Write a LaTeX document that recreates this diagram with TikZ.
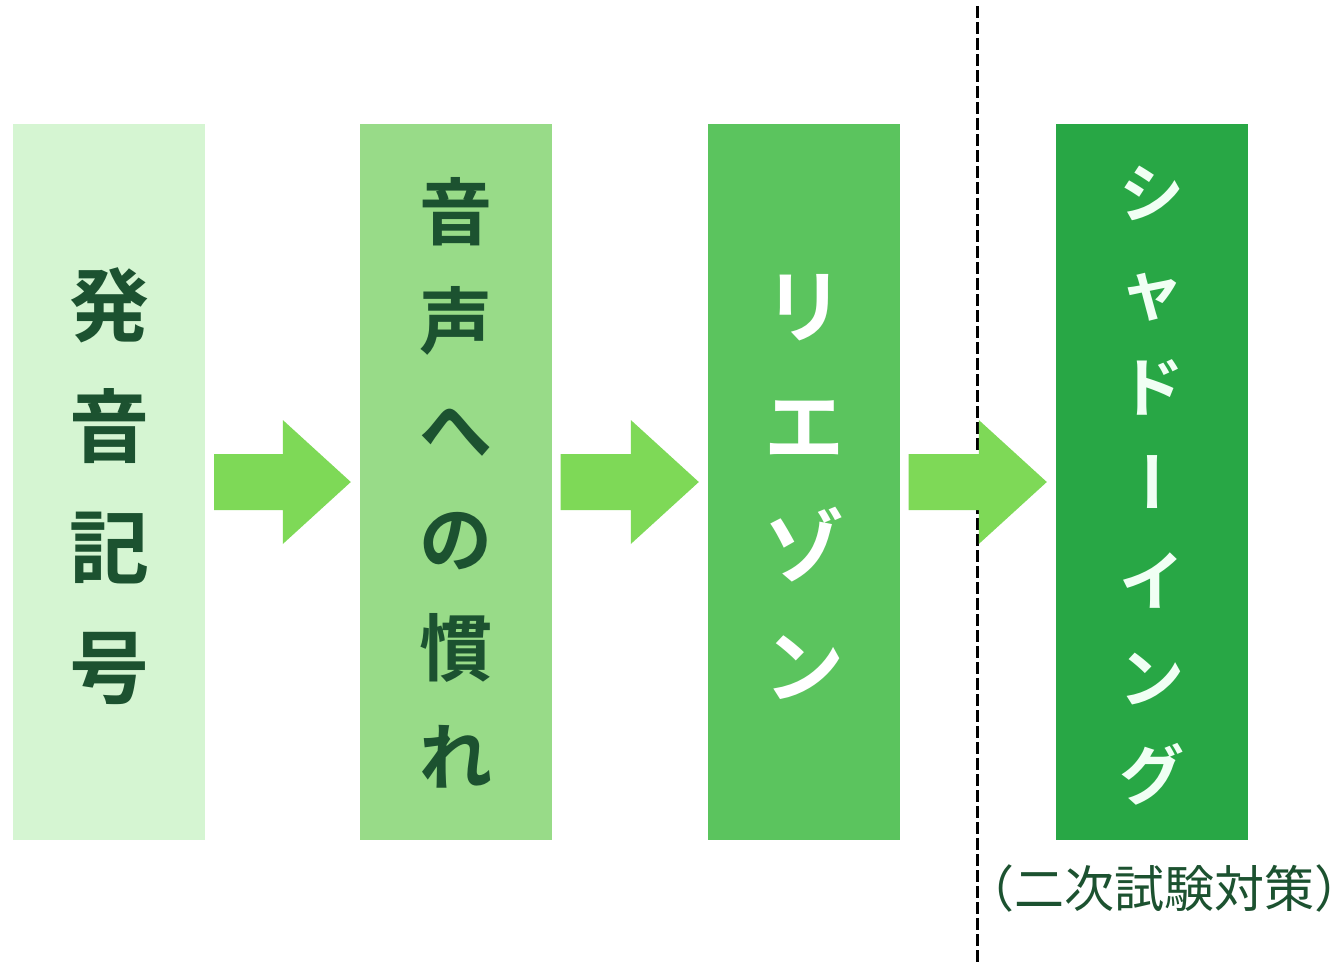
\documentclass[tikz,border=0pt]{standalone}
\usepackage{fontspec}
\usetikzlibrary{calc}
\newfontfamily\jpb{Noto Sans CJK JP Bold}
\newfontfamily\jpr[RawFeature=+halt]{Noto Sans CJK JP}
\definecolor{cA}{HTML}{D5F5D2}
\definecolor{cB}{HTML}{98DB88}
\definecolor{cC}{HTML}{5BC45E}
\definecolor{cD}{HTML}{28A745}
\definecolor{arrowc}{HTML}{7ED957}
\definecolor{darktxt}{HTML}{1C5230}
\definecolor{paletxt}{HTML}{F0FFF4}
\tikzset{
  box/.style={draw=none, minimum width=192pt, minimum height=716pt, inner sep=0pt},
  ch/.style={inner sep=0pt, anchor=center},
  chA/.style={ch, text height=70.4pt, text depth=9.6pt, font=\jpb\fontsize{80}{80}\selectfont, text=darktxt},
  chB/.style={ch, text height=64.24pt, text depth=8.76pt, font=\jpb\fontsize{73}{73}\selectfont, text=darktxt},
  chC/.style={ch, text height=70.4pt, text depth=9.6pt, font=\jpb\fontsize{80}{80}\selectfont, text=white},
  chD/.style={ch, text height=57.2pt, text depth=7.8pt, font=\jpb\fontsize{65}{65}\selectfont, text=paletxt},
  sub/.style={inner sep=0pt, font=\jpr\fontsize{50}{50}\selectfont, text=darktxt},
  divider/.style={black, line width=3pt, dash pattern=on 12pt off 4pt},
}
\newcommand\flowarrow[2]{%
  \fill[arrowc] let \p1=(#1.east), \p2=(#2.west) in
    (\x1+8.5pt,\y1+28pt) -- (\x2-77pt,\y1+28pt) -- (\x2-77pt,\y1+62pt) --
    (\x2-9pt,\y1) -- (\x2-77pt,\y1-62pt) -- (\x2-77pt,\y1-28pt) --
    (\x1+8.5pt,\y1-28pt) -- cycle;}
\begin{document}
\begin{tikzpicture}[x=1pt,y=-1pt]
\useasboundingbox[fill=white] (0,0) rectangle (1342,964);
% boxes
\node[box, fill=cA] (b1) at (109.3,482) {};
\node[box, fill=cB] (b2) at (456,482) {};
\node[box, fill=cC] (b3) at (804,482) {};
\node[box, fill=cD] (b4) at (1152,482) {};
% dashed divider
\coordinate (dtop) at (977.5,6);
\coordinate (dbot) at (977.5,964);
\draw[divider] (dtop) -- (dbot);
% arrows
\flowarrow{b1}{b2}
\flowarrow{b2}{b3}
\flowarrow{b3}{b4}
% box 1 text
\node[chA] (a1) at (109.5,305) {発};
\node[chA] (a2) at (109.5,426) {音};
\node[chA] (a3) at (109.5,547) {記};
\node[chA] (a4) at (109.5,667) {号};
% box 2 text
\node[chB] (n1) at (456,212) {音};
\node[chB] (n2) at (456,321) {声};
\node[chB] (n3) at (456,430) {へ};
\node[chB] (n4) at (456,539) {の};
\node[chB] (n5) at (456,648) {慣};
\node[chB] (n6) at (456,757) {れ};
% box 3 text
\node[chC] (r1) at (804,306) {リ};
\node[chC] (r2) at (804,426) {エ};
\node[chC] (r3) at (804,546) {ゾ};
\node[chC] (r4) at (804,666) {ン};
% box 4 text
\node[chD] (s1) at (1152,193) {シ};
\node[chD] (s2) at (1152,290) {ャ};
\node[chD] (s3) at (1152,387) {ド};
\node[chD, rotate=90] (s4) at (1153,482) {ー};
\node[chD] (s5) at (1152,581) {イ};
\node[chD] (s6) at (1152,678) {ン};
\node[chD] (s7) at (1152,775) {グ};
% subtitle
\node[sub] (note) at (1164,888) {（二次試験対策）};
\end{tikzpicture}
\end{document}
